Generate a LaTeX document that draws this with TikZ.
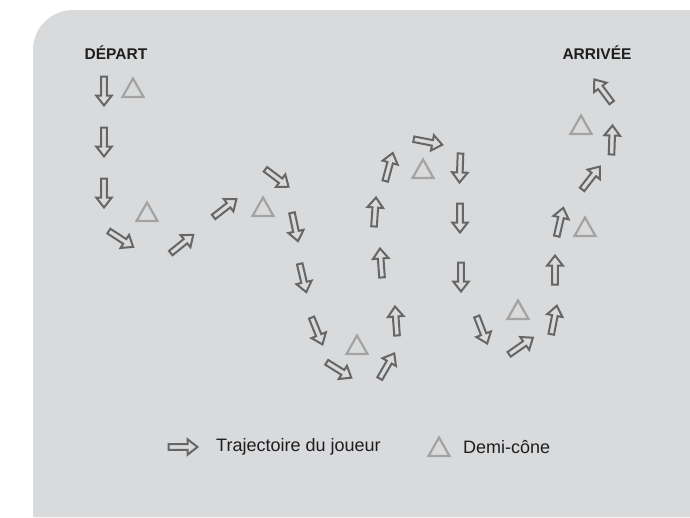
\documentclass[tikz,border=0pt]{standalone}
\usepackage{fontspec}
\setmainfont{Liberation Sans}
\usepackage{xcolor}
\definecolor{fond}{HTML}{D9DADC}
\definecolor{gristrait}{HTML}{666666}
\definecolor{griscone}{HTML}{A3A3A3}
\definecolor{noirtexte}{HTML}{1E1E1E}

\begin{document}
\begin{tikzpicture}[x=1pt,y=-1pt,
	trajet/.style={draw=gristrait,line width=2pt,fill=fond},
	cone/.style={draw=griscone,line width=2.2pt},
	titre/.style={inner sep=0pt,text=noirtexte,font=\fontsize{15.5}{17}\selectfont\bfseries},
	legende/.style={inner sep=0pt,text=noirtexte,font=\fontsize{18}{20}\selectfont},
	fleche/.pic={\path[trajet] (-14.5,-2.8) -- (4.5,-2.8) -- (4.5,-7.8) -- (14.5,0) -- (4.5,7.8) -- (4.5,2.8) -- (-14.5,2.8) -- cycle;},
	demicone/.pic={\draw[cone] (-10.5,9) -- (10.5,9) -- (0,-9.5) -- cycle;}]
	\useasboundingbox (0,0) rectangle (690,517);
	\fill[white] (0,0) rectangle (690,517);
	\fill[fond] (33,517) -- (33,50) arc[start angle=180,end angle=270,radius=40] -- (690,10) -- (690,517) -- cycle;
	\node[titre] (depart) at (116,53) {DÉPART};
	\node[titre] (arrivee) at (597,53) {ARRIVÉE};
	\foreach \x/\y/\a [count=\i] in {104/91/-90,104/142/-90,104/193/-90,121/239/-33,182/244/39,225/208/38,
		277/178/-37,295/227/-78,303/278/-77,317/331/-68,339/370/-32,387/366/60,396/321/94,381/263/94,
		375/212/86,389/167/75,428/142/-11,460/168/-92,460/218/-90,461/277/-90,482/330/-69,521/346/35,
		554/320/79,555/270/90,560/222/77,591/178/52,612/140/88,603/91/127}
		\pic[rotate=\a] (f\i) at (\x,\y) {fleche};
	\foreach \x/\y [count=\i] in {133/88,147/212,263/207,357/345,423/169,518/310,581/125,585/227}
		\pic (c\i) at (\x,\y) {demicone};
	\pic (lf) at (183,447) {fleche};
	\node[legende,anchor=west] (trajectoire) at (216,447) {Trajectoire du joueur};
	\pic (lc) at (439,447) {demicone};
	\node[legende,anchor=west] (cone) at (463,447) {Demi-cône};
\end{tikzpicture}
\end{document}
